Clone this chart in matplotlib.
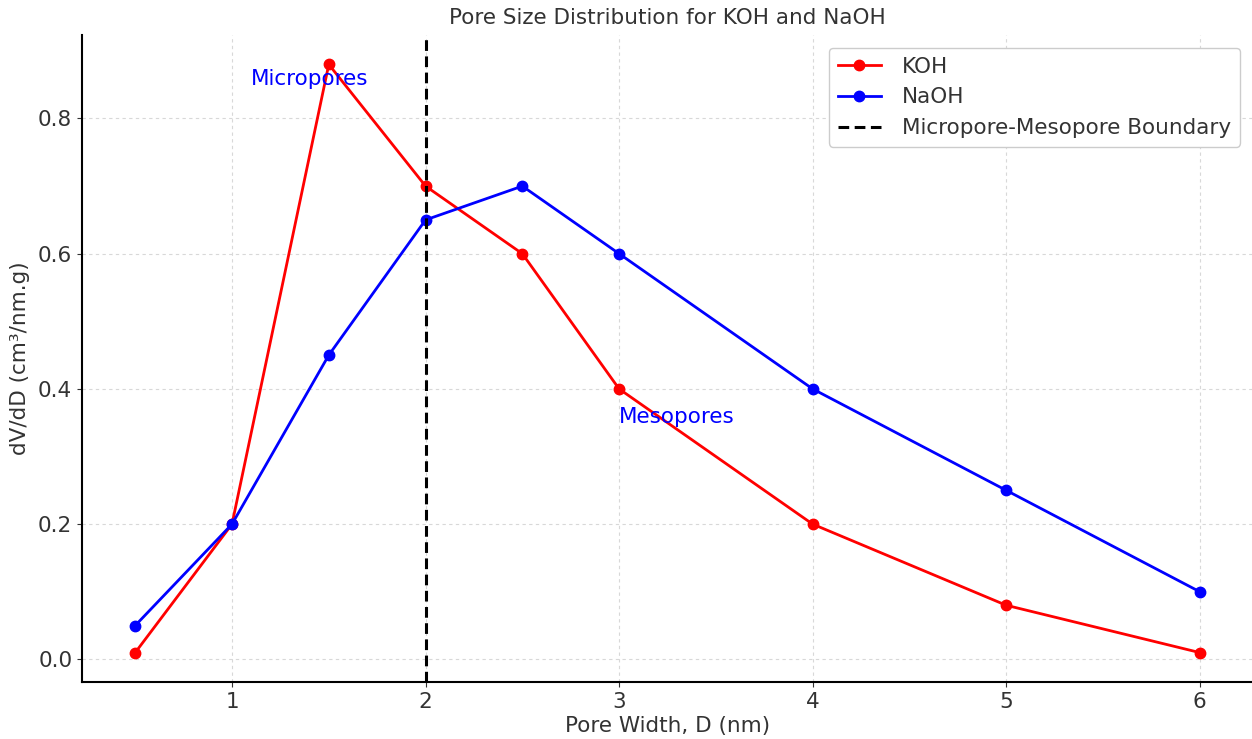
import matplotlib
matplotlib.use('Agg')
import matplotlib.pyplot as plt

# pore width (nm) and dV/dD values
pore_width = [0.5, 1, 1.5, 2, 2.5, 3, 4, 5, 6]
koh = [0.01, 0.2, 0.88, 0.7, 0.6, 0.4, 0.2, 0.08, 0.01]
naoh = [0.05, 0.2, 0.45, 0.65, 0.7, 0.6, 0.4, 0.25, 0.1]
boundary = 2

plt.rcParams['font.family'] = ['DejaVu Sans']
plt.rcParams['text.color'] = '#333333'
plt.rcParams['axes.labelcolor'] = '#333333'
plt.rcParams['xtick.color'] = '#333333'
plt.rcParams['ytick.color'] = '#333333'

fs = 15.5

fig = plt.figure(figsize=(12.52, 7.39), dpi=100)
ax = fig.add_axes([82 / 1252, 57 / 739, 1171 / 1252, 647 / 739])

ax.plot(pore_width, koh, marker='o', color='red', lw=2, ms=7.5, label='KOH')
ax.plot(pore_width, naoh, marker='o', color='blue', lw=2, ms=7.5, label='NaOH')
ax.axvline(boundary, color='black', ls=(0, (3.5, 1.8)), lw=2.2, label='Micropore-Mesopore Boundary')

ax.text(1.1, 0.85, 'Micropores', color='blue', fontsize=fs)
ax.text(3.0, 0.35, 'Mesopores', color='blue', fontsize=fs)

ax.set_title('Pore Size Distribution for KOH and NaOH', fontsize=fs, pad=8)
ax.set_xlabel('Pore Width, D (nm)', fontsize=fs, labelpad=3)
ax.set_ylabel('dV/dD (cm³/nm.g)', fontsize=fs, labelpad=6)
ax.tick_params(labelsize=fs)

ax.grid(True, ls=(0, (3, 3)), color='#d8d8d8', lw=0.8)
ax.spines['top'].set_visible(False)
ax.spines['right'].set_visible(False)
ax.spines['left'].set_linewidth(1.5)
ax.spines['bottom'].set_linewidth(1.5)

leg = ax.legend(loc='upper right', fontsize=fs, framealpha=1, edgecolor='#cccccc',
                borderaxespad=0.6, handletextpad=1.0)

fig.savefig('out.png', dpi=100)
